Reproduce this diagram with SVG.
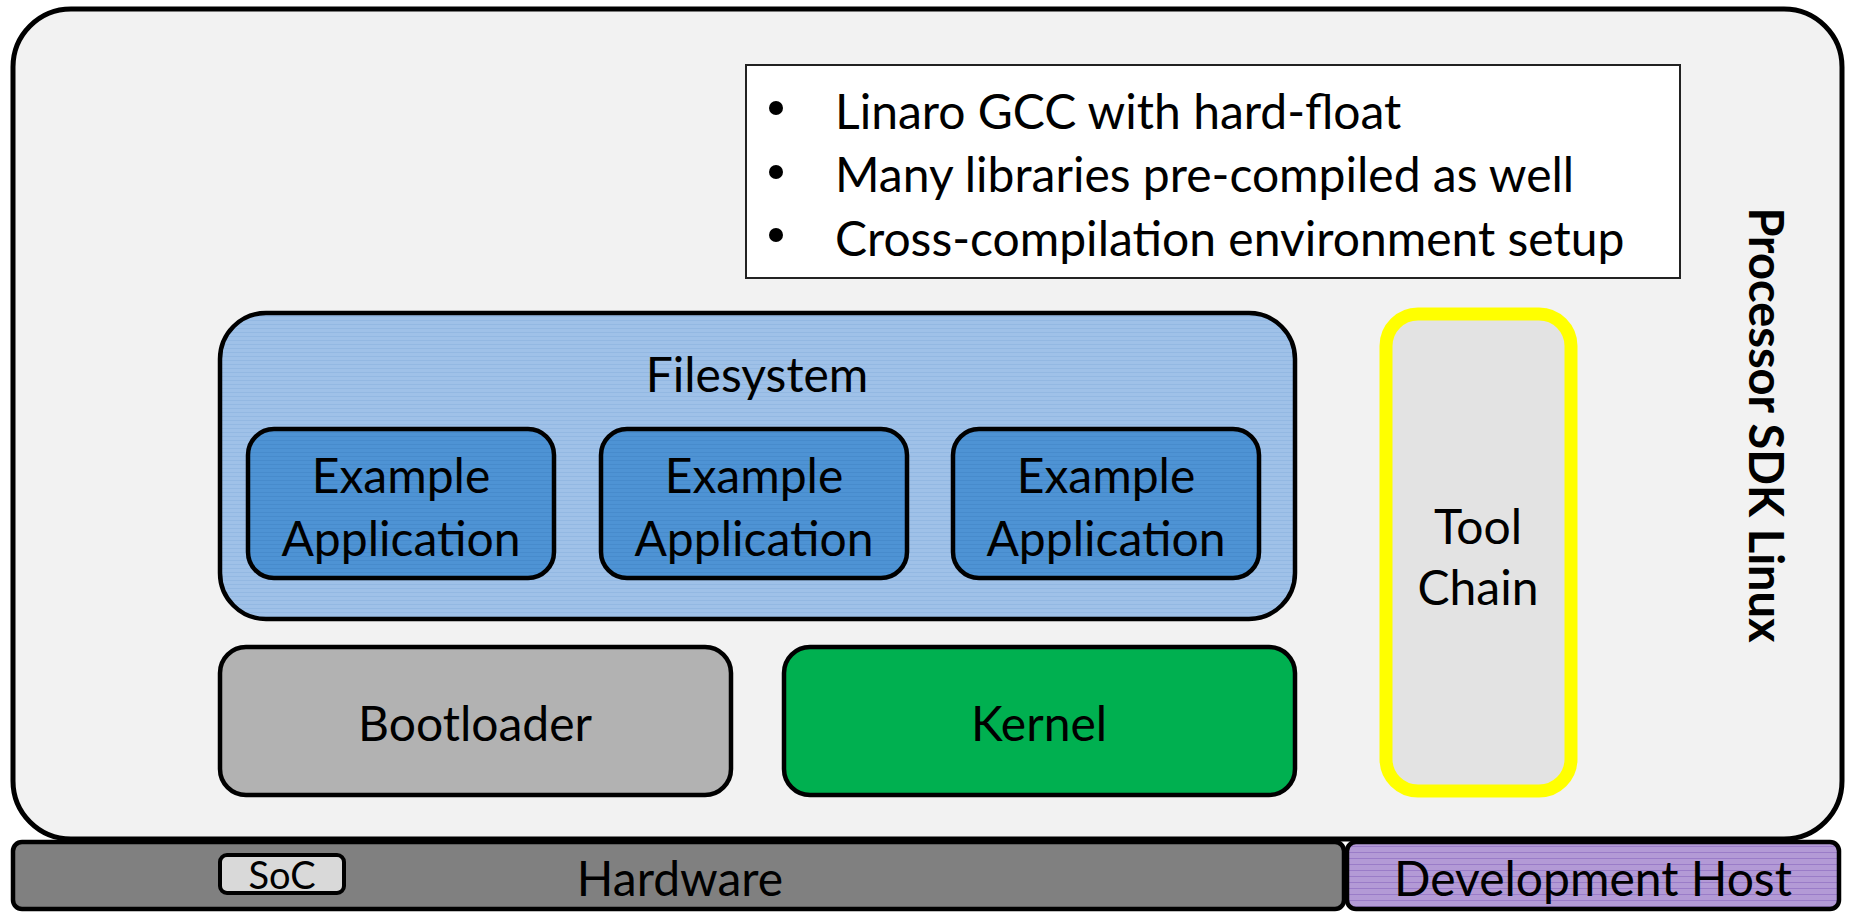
<svg xmlns="http://www.w3.org/2000/svg" width="1849" height="912" viewBox="0 0 1849 912">
  <defs>
    <pattern id="fsTexture" width="4" height="4" patternUnits="userSpaceOnUse">
      <rect width="4" height="4" fill="#9fc1e8"/>
      <rect y="0" width="4" height="1" fill="#93b8e2"/>
    </pattern>
    <pattern id="appTexture" width="4" height="4" patternUnits="userSpaceOnUse">
      <rect width="4" height="4" fill="#4e93d4"/>
      <rect y="0" width="4" height="1" fill="#478bcc"/>
    </pattern>
    <pattern id="hostTexture" width="6" height="6" patternUnits="userSpaceOnUse">
      <rect width="6" height="6" fill="#b39ad6"/>
      <rect y="0" width="6" height="1" fill="#9a7cc8"/>
    </pattern>
  </defs>
  <style>
    .lbl { font-family: "Lato", "Open Sans", "Liberation Sans", sans-serif; fill: #000; text-anchor: middle; dominant-baseline: central; }
    .big { font-size: 48px; }
    .bul { font-family: "Lato", "Open Sans", "Liberation Sans", sans-serif; font-size: 48px; fill: #000; dominant-baseline: central; }
    .box { stroke: #000; stroke-width: 4.5; }
  </style>

  <!-- Processor SDK Linux container -->
  <g id="sdk">
    <rect x="13" y="9" width="1829" height="830" rx="58" fill="#f2f2f2" stroke="#000" stroke-width="5"/>
    <text class="lbl" font-weight="bold" font-size="47" transform="translate(1767 425) rotate(90)">Processor SDK Linux</text>
  </g>

  <!-- Toolchain notes -->
  <g id="notes">
    <rect x="746" y="65" width="934" height="213" fill="#fff" stroke="#222" stroke-width="2"/>
    <circle cx="776" cy="108" r="7" fill="#000"/>
    <circle cx="776" cy="172" r="7" fill="#000"/>
    <circle cx="776" cy="235" r="7" fill="#000"/>
    <text class="bul" x="835" y="110">Linaro GCC with hard-float</text>
    <text class="bul" x="835" y="173">Many libraries pre-compiled as well</text>
    <text class="bul" x="835" y="237">Cross-compilation environment setup</text>
  </g>

  <!-- Filesystem with example applications -->
  <g id="filesystem">
    <rect class="box" x="220" y="313" width="1075" height="306" rx="46" fill="url(#fsTexture)"/>
    <text class="lbl big" x="757" y="373">Filesystem</text>
  </g>
  <g id="app1">
    <rect class="box" x="248" y="429" width="306" height="149" rx="26" fill="url(#appTexture)"/>
    <text class="lbl big" x="401" y="474">Example</text>
    <text class="lbl big" x="401" y="537">Application</text>
  </g>
  <g id="app2">
    <rect class="box" x="601" y="429" width="306" height="149" rx="26" fill="url(#appTexture)"/>
    <text class="lbl big" x="754" y="474">Example</text>
    <text class="lbl big" x="754" y="537">Application</text>
  </g>
  <g id="app3">
    <rect class="box" x="953" y="429" width="306" height="149" rx="26" fill="url(#appTexture)"/>
    <text class="lbl big" x="1106" y="474">Example</text>
    <text class="lbl big" x="1106" y="537">Application</text>
  </g>

  <!-- Boot and kernel layer -->
  <g id="bootloader">
    <rect class="box" x="220" y="647" width="511" height="148" rx="26" fill="#b2b2b2"/>
    <text class="lbl big" x="475" y="722">Bootloader</text>
  </g>
  <g id="kernel">
    <rect class="box" x="784" y="647" width="511" height="148" rx="26" fill="#00b050"/>
    <text class="lbl big" x="1039" y="722">Kernel</text>
  </g>

  <!-- Tool chain -->
  <g id="toolchain">
    <rect x="1386" y="314" width="185" height="477" rx="32" fill="#e3e3e3" stroke="#ffff00" stroke-width="13"/>
    <text class="lbl big" x="1478" y="525">Tool</text>
    <text class="lbl big" x="1478" y="586">Chain</text>
  </g>

  <!-- Base layers -->
  <g id="hardware">
    <rect class="box" x="13" y="842" width="1331" height="67" rx="9" fill="#808080"/>
    <text class="lbl big" x="680" y="877">Hardware</text>
  </g>
  <g id="soc">
    <rect x="220" y="855" width="124" height="38" rx="7" fill="#d9d9d9" stroke="#000" stroke-width="4"/>
    <text class="lbl" font-size="38" x="282" y="874">SoC</text>
  </g>
  <g id="devhost">
    <rect class="box" x="1347" y="842" width="492" height="67" rx="9" fill="url(#hostTexture)"/>
    <text class="lbl big" x="1593" y="877">Development Host</text>
  </g>

  <g id="connectors"/>
</svg>
